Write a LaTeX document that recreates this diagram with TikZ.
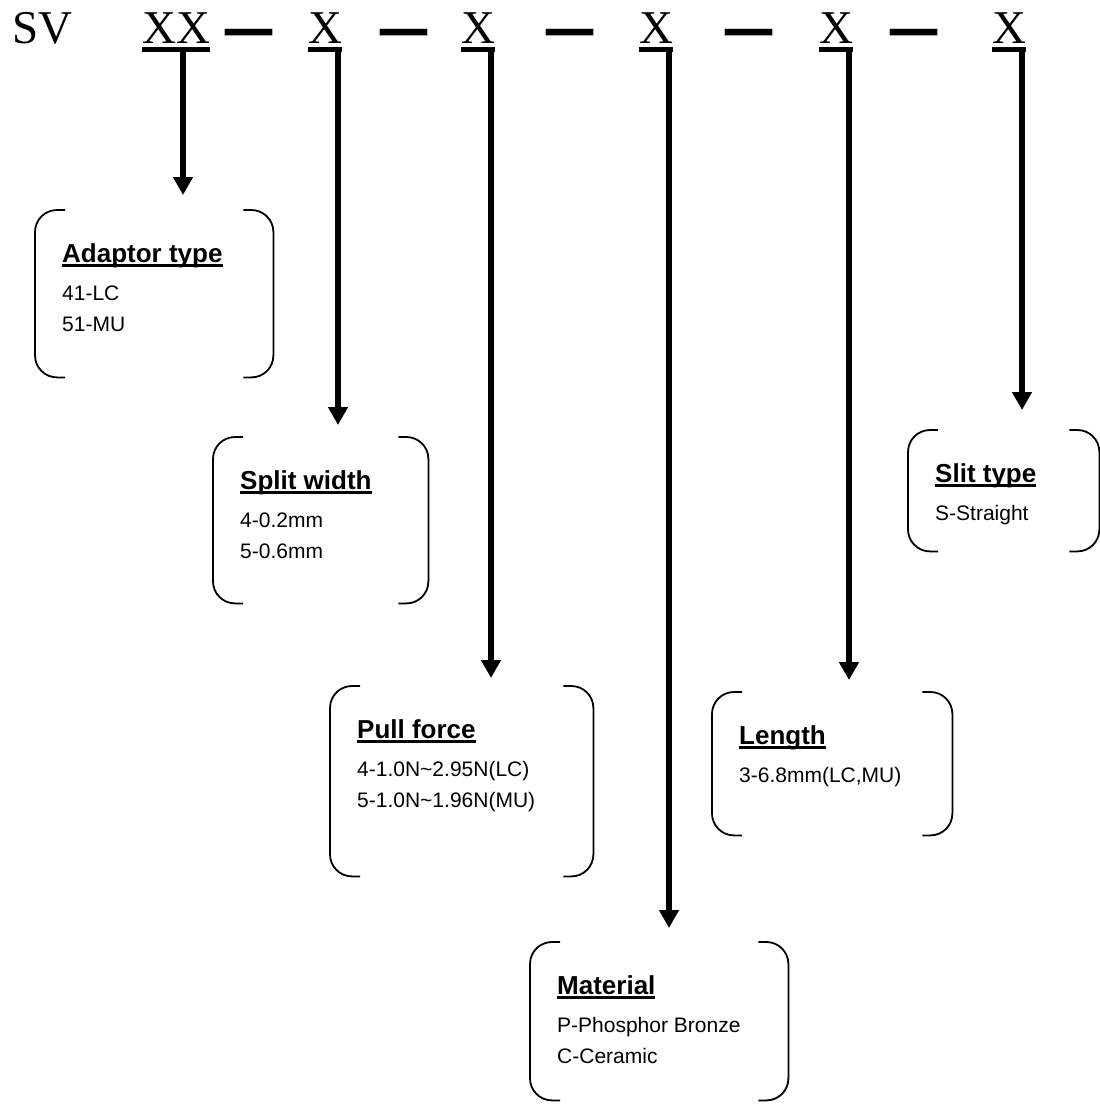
\documentclass[tikz,border=0pt]{standalone}
\usepackage{fontspec}
\setmainfont{Liberation Sans}
\newfontfamily\codefont{Liberation Serif}
\usetikzlibrary{arrows.meta, positioning}

\newcommand{\heading}[1]{\setbox0\hbox{\bfseries #1}\rlap{\rule[-5pt]{\wd0}{2.8pt}}\box0}
\newcommand{\joiner}{\scalebox{1}[2]{\textbf{—}}}

\begin{document}
\begin{tikzpicture}[
    x=1pt, y=-1pt, >={Triangle[width=19pt, length=18pt]},
    code/.style={anchor=base west, inner sep=0pt, font=\codefont\fontsize{47}{50}\selectfont},
    title/.style={anchor=base west, inner sep=0pt, font=\fontsize{26}{30}\selectfont},
    item/.style={anchor=base west, inner sep=0pt, font=\fontsize{21}{25}\selectfont},
    spec/.style={anchor=north west, inner sep=0pt},
    bracket/.style={line width=1.8pt, rounded corners=22pt},
    underbar/.style={line width=4.5pt},
    pointer/.style={->, line width=6pt}
]
    \useasboundingbox (0,0) rectangle (1100,1104);

    % Part number
    \node[code] (sv) at (12,43) {SV};
    \node[code] (c1) at (142,43) {XX};
    \node[code] (d1) at (225,54) {\joiner};
    \node[code] (c2) at (308,43) {X};
    \node[code] (d2) at (380,54) {\joiner};
    \node[code] (c3) at (461,43) {X};
    \node[code] (d3) at (546,54) {\joiner};
    \node[code] (c4) at (639,43) {X};
    \node[code] (d4) at (725,54) {\joiner};
    \node[code] (c5) at (819,43) {X};
    \node[code] (d5) at (890,54) {\joiner};
    \node[code] (c6) at (992,43) {X};

    \foreach \c in {c1, c2, c3, c4, c5, c6}
        \draw[underbar] ([yshift=-6.5pt]\c.base west) -- ([yshift=-6.5pt]\c.base east);

    % Stems under the code letters
    \coordinate (s1) at (183,48);
    \coordinate (s2) at (338,48);
    \coordinate (s3) at (491,48);
    \coordinate (s4) at (669,48);
    \coordinate (s5) at (849,48);
    \coordinate (s6) at (1022,48);

    % Option boxes
    \node[spec, minimum width=238pt, minimum height=167pt] (adaptor) at (35,210) {};
    \node[spec, minimum width=215pt, minimum height=166pt] (split) at (213,437) {};
    \node[spec, minimum width=263pt, minimum height=190pt] (pull) at (330,686) {};
    \node[spec, minimum width=258pt, minimum height=158pt] (material) at (530,942) {};
    \node[spec, minimum width=240pt, minimum height=143pt] (length) at (712,692) {};
    \node[spec, minimum width=191pt, minimum height=121pt] (slit) at (908,430) {};

    \foreach \b in {adaptor, split, pull, material, length, slit} {
        \draw[bracket] ([xshift=30pt]\b.north west) -- (\b.north west)
            -- (\b.south west) -- ([xshift=30pt]\b.south west);
        \draw[bracket] ([xshift=-30pt]\b.north east) -- (\b.north east)
            -- (\b.south east) -- ([xshift=-30pt]\b.south east);
    }

    % Texts
    \node[title] at ([xshift=27pt, yshift=-52pt]adaptor.north west) {\heading{Adaptor type}};
    \node[item] at ([xshift=27pt, yshift=-90pt]adaptor.north west) {41-LC};
    \node[item] at ([xshift=27pt, yshift=-121pt]adaptor.north west) {51-MU};

    \node[title] at ([xshift=27pt, yshift=-52pt]split.north west) {\heading{Split width}};
    \node[item] at ([xshift=27pt, yshift=-90pt]split.north west) {4-0.2mm};
    \node[item] at ([xshift=27pt, yshift=-121pt]split.north west) {5-0.6mm};

    \node[title] at ([xshift=27pt, yshift=-52pt]pull.north west) {\heading{Pull force}};
    \node[item] at ([xshift=27pt, yshift=-90pt]pull.north west) {4-1.0N\textasciitilde2.95N(LC)};
    \node[item] at ([xshift=27pt, yshift=-121pt]pull.north west) {5-1.0N\textasciitilde1.96N(MU)};

    \node[title] at ([xshift=27pt, yshift=-52pt]material.north west) {\heading{Material}};
    \node[item] at ([xshift=27pt, yshift=-90pt]material.north west) {P-Phosphor Bronze};
    \node[item] at ([xshift=27pt, yshift=-121pt]material.north west) {C-Ceramic};

    \node[title] at ([xshift=27pt, yshift=-52pt]length.north west) {\heading{Length}};
    \node[item] at ([xshift=27pt, yshift=-90pt]length.north west) {3-6.8mm(LC,MU)};

    \node[title] at ([xshift=27pt, yshift=-52pt]slit.north west) {\heading{Slit type}};
    \node[item] at ([xshift=27pt, yshift=-90pt]slit.north west) {S-Straight};

    % Pointers
    \draw[pointer, shorten >=15pt] (s1) -- (s1 |- adaptor.north);
    \draw[pointer, shorten >=12pt] (s2) -- (s2 |- split.north);
    \draw[pointer, shorten >=8pt] (s3) -- (s3 |- pull.north);
    \draw[pointer, shorten >=14pt] (s4) -- (s4 |- material.north);
    \draw[pointer, shorten >=12pt] (s5) -- (s5 |- length.north);
    \draw[pointer, shorten >=20pt] (s6) -- (s6 |- slit.north);

\end{tikzpicture}
\end{document}
